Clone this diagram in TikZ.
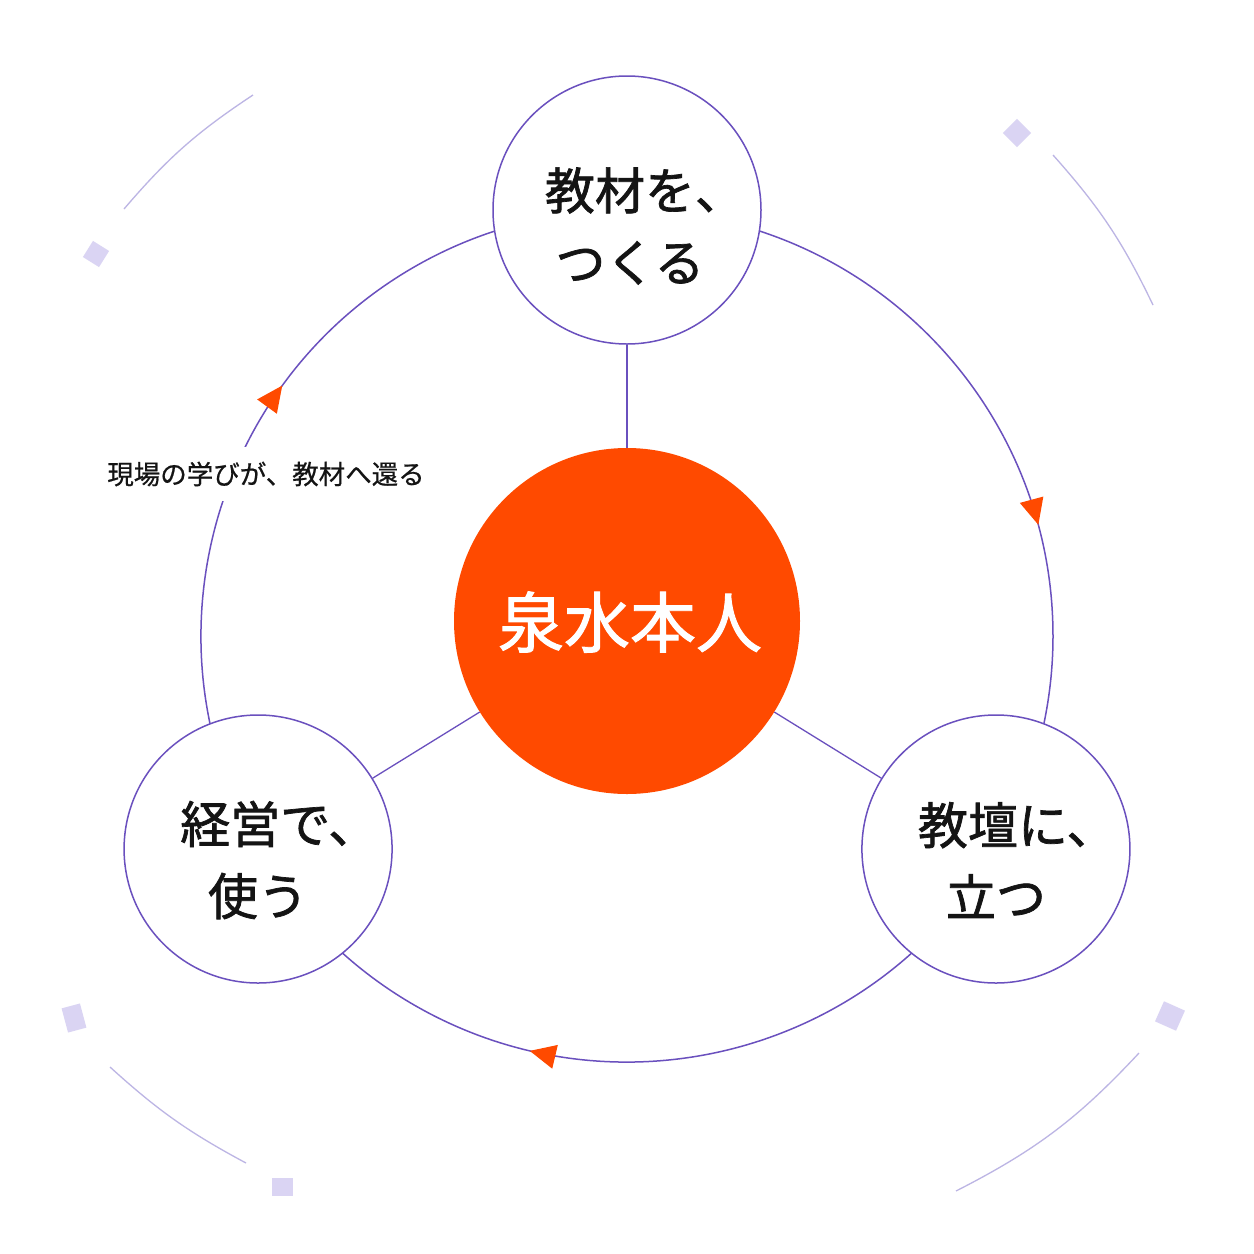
\documentclass[tikz,border=0pt]{standalone}
\usepackage{fontspec}
\newfontfamily\cjk{Noto Sans CJK JP}
\newfontfamily\cjkheavy[FakeBold=1.4]{Noto Sans CJK JP}
\newfontfamily\cjkmid[FakeBold=0.6]{Noto Sans CJK JP}
\usetikzlibrary{arrows.meta,decorations.markings,calc}
\definecolor{ringc}{RGB}{106,80,190}
\definecolor{accent}{RGB}{255,74,0}
\definecolor{decoline}{RGB}{188,181,228}
\definecolor{decofill}{RGB}{218,212,243}
\definecolor{ink}{RGB}{20,20,20}
\tikzset{flowtip/.tip={Triangle[length=26pt,width=24pt,color=accent]}}
\begin{document}
\begin{tikzpicture}[x=1pt,y=1pt,
  stage/.style={circle, draw=ringc, line width=1.5pt, fill=white, minimum size=268pt, inner sep=0pt},
  core/.style={circle, fill=accent, minimum size=346pt, inner sep=0pt},
  stagetext/.style={font=\cjkheavy\fontsize{50}{72}\selectfont, text=ink, align=center, inner sep=0pt},
  coretext/.style={font=\cjkheavy\fontsize{66}{72}\selectfont, text=white, inner sep=0pt},
  ringarc/.style={draw=ringc, line width=1.5pt},
  link/.style={draw=ringc, line width=1.3pt},
  decoarc/.style={draw=decoline, line width=1.3pt},
  decosq/.style={fill=decofill, inner sep=0pt, minimum width=20pt, minimum height=20pt},
  cyclelabel/.style={font=\cjkmid\fontsize{26.5}{30}\selectfont, text=ink, fill=white, inner xsep=4pt, inner ysep=15pt}
]
\fill[white] (0,0) rectangle (1254,-1254);
\useasboundingbox (0,0) rectangle (1254,-1254);

% geometry
\coordinate (C) at (627,-636);
\coordinate (ptop) at ($(C)+(90:426)$);
\coordinate (pright) at ($(C)+(-30:426)$);
\coordinate (pleft) at ($(C)+(210:426)$);

% decorative arcs and squares
\draw[decoarc] (253,-95) to[bend right=8] (124,-209);
\draw[decoarc] (1053,-155) to[bend left=8] (1153,-305);
\draw[decoarc] (110,-1067) to[bend right=7] (246,-1163);
\draw[decoarc] (1139,-1053) to[bend left=10] (956,-1191);
\node[decosq, rotate=45] (sq1) at (1017,-133) {};
\node[decosq, minimum width=19pt, minimum height=19pt, rotate=-32] (sq2) at (96,-254) {};
\node[decosq, minimum width=19pt, minimum height=25pt, rotate=15] (sq3) at (74,-1018) {};
\node[decosq, minimum width=21pt, minimum height=18pt] (sq4) at (282,-1187) {};
\node[decosq, minimum width=23pt, minimum height=22pt, rotate=-24] (sq5) at (1170,-1016) {};

% cycle ring
\draw[ringarc, postaction={decorate}, decoration={markings, mark=at position 0.624 with {\arrow{flowtip}}}]
  (ptop) arc[start angle=90, end angle=-30, radius=426];
\draw[ringarc, postaction={decorate}, decoration={markings, mark=at position 0.61 with {\arrow{flowtip}}}]
  (pright) arc[start angle=-30, end angle=-150, radius=426];
\draw[ringarc, postaction={decorate}, decoration={markings, mark=at position 0.55 with {\arrow{flowtip}}}]
  (pleft) arc[start angle=210, end angle=90, radius=426];

% nodes
\node[core] (core) at (627,-621) {};
\node[stage] (top) at (ptop) {};
\node[stage] (right) at (pright) {};
\node[stage] (left) at (pleft) {};

\draw[link] (top) -- (core);
\draw[link] (left) -- (core);
\draw[link] (right) -- (core);

\node[cyclelabel] (lab) at (266,-474) {現場の学びが、教材へ還る};

\node[coretext] (coretxt) at (630,-622) {泉水本人};
\node[stagetext] (toptxt) at (630,-226) {\hspace*{0.6em}教材を、\\つくる};
\node[stagetext] (lefttxt) at (258,-860) {\hspace*{0.85em}経営で、\\使う};
\node[stagetext] (righttxt) at (996,-860) {\hspace*{0.85em}教壇に、\\立つ};
\end{tikzpicture}
\end{document}
